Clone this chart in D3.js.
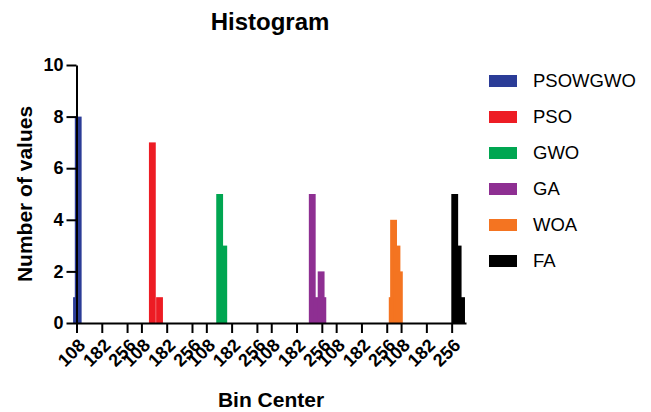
<!DOCTYPE html>
<html>
<head>
<meta charset="utf-8">
<script src="https://cdn.jsdelivr.net/npm/d3@7/dist/d3.min.js"></script>
<style>
  body { margin: 0; background: #fff; }
  svg { display: block; font-family: Arial, "Liberation Sans", Helvetica, sans-serif; }
  .axis path, .axis line { stroke: #000; stroke-width: 2; }
  .axis text { fill: #000; font-weight: bold; }
</style>
</head>
<body>
<div id="chart"></div>
<script>
// series shown side by side, each on its own piece of the x axis
let seriesNames = ["PSOWGWO", "PSO", "GWO", "GA", "WOA", "FA"];
let seriesColors = ["#2b3c97", "#ed1c24", "#00a651", "#8e2f92", "#f47421", "#000000"];

// bin centers and counts
let binCenters = [
    [108, 113],
    [140, 161],
    [147, 159],
    [228, 242, 254, 259],
    [272, 276, 286, 293],
    [265, 275, 285]
];
let binCounts = [
    [1, 8],
    [7, 1],
    [5, 3],
    [5, 1, 2, 1],
    [1, 4, 3, 2],
    [5, 3, 1]
];

let tickLabels = [108, 182, 256];
let yTicks = [0, 2, 4, 6, 8, 10];
let binWidth = 20;
let segmentSpan = 190;   // units of one series' piece of the axis

let width = 651, height = 412;
let margin = {top: 65, left: 76.5, right: 185, bottom: 89};

let svg = d3.select("#chart").append("svg")
    .attr("width", width)
    .attr("height", height);

let x = d3.scaleLinear()
    .domain([tickLabels[0], tickLabels[0] + seriesNames.length * segmentSpan])
    .range([margin.left, width - margin.right]);

let y = d3.scaleLinear()
    .domain([0, 10])
    .range([height - margin.bottom, margin.top]);

// flatten bins into bars
let bars = [];
binCenters.forEach((centers, s) => {
    centers.forEach((c, i) => {
        bars.push({series: s, center: s * segmentSpan + c, count: binCounts[s][i]});
    });
});

svg.append("g").attr("id", "bars")
    .selectAll("rect")
    .data(bars)
    .enter().append("rect")
    .attr("x", d => x(d.center - binWidth / 2))
    .attr("width", d => x(d.center + binWidth / 2) - x(d.center - binWidth / 2))
    .attr("y", d => y(d.count))
    .attr("height", d => y(0) - y(d.count))
    .attr("fill", d => seriesColors[d.series]);

// x axis: the same three labels repeat in every segment
let xTickVals = [];
seriesNames.forEach((n, s) => tickLabels.forEach(t => xTickVals.push(s * segmentSpan + t)));

let xAxis = d3.axisBottom(x)
    .tickValues(xTickVals)
    .tickFormat(v => tickLabels[xTickVals.indexOf(v) % tickLabels.length])
    .tickSize(10)
    .tickSizeOuter(0);

let xAx = svg.append("g")
    .attr("class", "axis")
    .attr("transform", "translate(0," + y(0) + ")")
    .call(xAxis);

xAx.selectAll("text")
    .attr("x", 0)
    .attr("y", 0)
    .attr("dy", "0.35em")
    .attr("text-anchor", "end")
    .attr("transform", "translate(5,19) rotate(-45)")
    .style("font-size", "18px");

let yAxis = d3.axisLeft(y)
    .tickValues(yTicks)
    .tickSize(10)
    .tickPadding(3)
    .tickSizeOuter(0);

svg.append("g")
    .attr("class", "axis")
    .attr("transform", "translate(" + margin.left + ",0)")
    .call(yAxis)
    .selectAll("text")
    .style("font-size", "18px");

// titles
svg.append("text")
    .attr("x", 270)
    .attr("y", 30)
    .attr("text-anchor", "middle")
    .style("font-size", "24px")
    .style("font-weight", "bold")
    .text("Histogram");

svg.append("text")
    .attr("x", 271)
    .attr("y", 407)
    .attr("text-anchor", "middle")
    .style("font-size", "21px")
    .style("font-weight", "bold")
    .text("Bin Center");

svg.append("text")
    .attr("transform", "translate(32," + (y(5)) + ") rotate(-90)")
    .attr("text-anchor", "middle")
    .style("font-size", "21px")
    .style("font-weight", "bold")
    .text("Number of values");

// legend
let legend = svg.append("g").attr("id", "legend")
    .selectAll("g")
    .data(seriesNames)
    .enter().append("g")
    .attr("transform", (d, i) => "translate(489," + (81 + i * 36) + ")");

legend.append("rect")
    .attr("x", 0)
    .attr("y", -6)
    .attr("width", 28)
    .attr("height", 12)
    .attr("fill", (d, i) => seriesColors[i]);

legend.append("text")
    .attr("x", 44)
    .attr("dy", "0.35em")
    .style("font-size", "18.5px")
    .text(d => d);
</script>
</body>
</html>
